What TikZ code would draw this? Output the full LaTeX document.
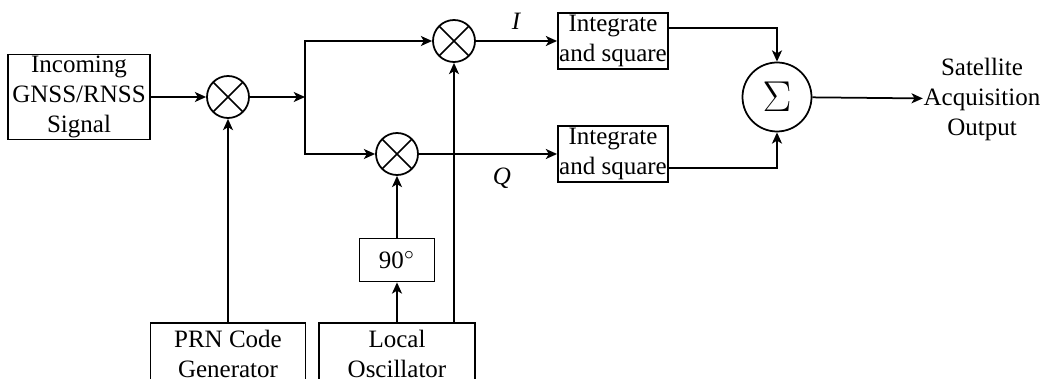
\documentclass[tikz,border=0pt]{standalone}
\usepackage{fontspec}
\setmainfont{Liberation Serif}
\usepackage{tikz}
\usetikzlibrary{calc, arrows.meta}

\begin{document}
\begin{tikzpicture}[x=0.4pt, y=-0.4pt, line width=0.7pt,
            block/.style={draw, rectangle, align=center, inner sep=0.5pt},
            mixer/.style={draw, circle, minimum size=16.8pt, inner sep=0pt,
                path picture={\draw (path picture bounding box.north west) -- (path picture bounding box.south east)
                              (path picture bounding box.north east) -- (path picture bounding box.south west);}},
            conn/.style={-{Stealth[length=4.5pt, width=4pt, inset=1.2pt]}}]
            \useasboundingbox (0,0) rectangle (1062,379);
            % blocks
            \node[block, minimum width=56.8pt, minimum height=34pt] (sig) at (79,97) {Incoming\\GNSS/RNSS\\Signal};
            \node[mixer] (m1) at (228,97) {};
            \coordinate (j) at (305,97);
            \node[mixer] (mI) at (454,41) {};
            \node[mixer] (mQ) at (397,154) {};
            \node[block, minimum width=30pt, minimum height=17.2pt] (ph) at (397,260) {90$^\circ$};
            \node[block, minimum width=62pt, minimum height=24.8pt] (prn) at (228,354) {PRN Code\\Generator};
            \node[block, minimum width=62.4pt, minimum height=24.8pt] (lo) at (397,354) {Local\\Oscillator};
            \node[block, minimum width=44pt, minimum height=22.4pt] (intI) at (613,41) {Integrate\\and square};
            \node[block, minimum width=44pt, minimum height=22.4pt] (intQ) at (613,154) {Integrate\\and square};
            \node[draw, circle, minimum size=27.6pt, inner sep=0pt] (sum) at (777,97) {\fontsize{17}{17}\selectfont$\Sigma$};
            \node[align=center, inner sep=0pt] (out) at (982,99) {Satellite\\Acquisition\\Output};
            % connectors
            \draw[conn] (sig) -- (m1);
            \draw[conn] (m1) -- (j);
            \draw[conn] (j) |- (mI);
            \draw[conn] (j) |- (mQ);
            \draw[conn] (prn) -- (m1);
            \draw[conn] (lo) -- (ph);
            \draw[conn] (ph) -- (mQ);
            \draw[conn] (lo.north -| mI.south) -- (mI.south);
            \draw[conn] (mI) -- node[midway, above=1pt] {\textit{I}} (intI);
            \draw[conn] (mQ) -- node[pos=0.6, below=2pt] {\textit{Q}} (intQ);
            \draw[conn] ([yshift=5.2pt]intI.east) -| (sum.north);
            \draw[conn] ([yshift=-5.6pt]intQ.east) -| (sum.south);
            \draw[conn] (sum) -- (out);
        \end{tikzpicture}
\end{document}
